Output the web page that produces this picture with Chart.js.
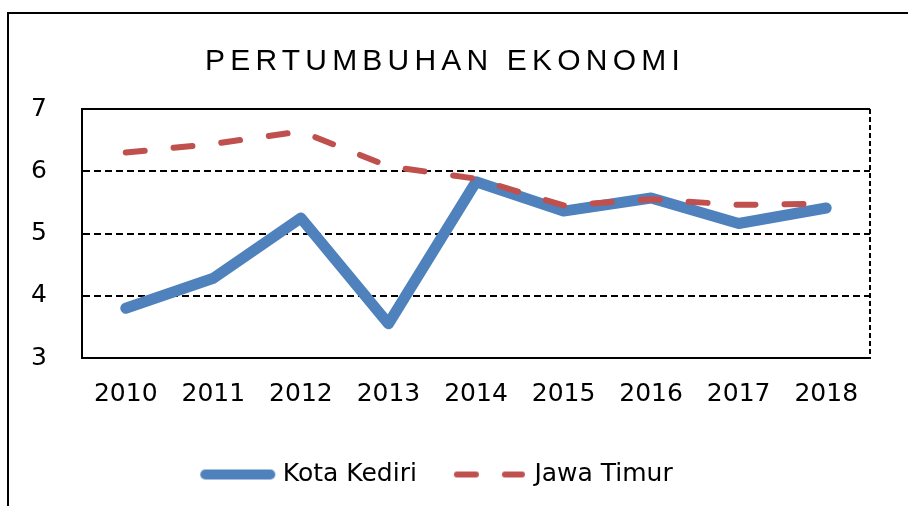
<!DOCTYPE html>
<html>
<head>
  <script src="https://cdn.jsdelivr.net/npm/chart.js"></script>
  <style>
    body { margin: 0; background: #fff; }
  </style>
</head>
<body>
  <div style="width: 908px; height: 506px;">
    <canvas id="growthChart" width="908" height="506"></canvas>
  </div>

  <script>
    // values
    const years = ['2010', '2011', '2012', '2013', '2014', '2015', '2016', '2017', '2018'];
    const kotaKediri = [3.80, 4.28, 5.25, 3.55, 5.83, 5.36, 5.57, 5.16, 5.41];
    const jawaTimur = [6.30, 6.44, 6.64, 6.08, 5.88, 5.45, 5.55, 5.46, 5.48];
    const yTicks = [3, 4, 5, 6, 7];
    const chartTitle = 'PERTUMBUHAN EKONOMI';

    const tickFont = { family: '"DejaVu Sans"', size: 25 };
    const blue = '#4F81BD';
    const red = '#C0504D';

    // legend swatches: a 65px line with round caps, solid or dashed
    function swatch(color, width, dash) {
      const c = document.createElement('canvas');
      c.width = 77;
      c.height = 14;
      const g = c.getContext('2d');
      g.strokeStyle = color;
      g.lineWidth = width;
      g.lineCap = 'round';
      g.setLineDash(dash);
      g.beginPath();
      g.moveTo(6, 7);
      g.lineTo(71, 7);
      g.stroke();
      return c;
    }

    // outer frame, plot top/right edges and the spaced-out title
    const framePlugin = {
      id: 'frame',
      afterDraw(chart) {
        const ctx = chart.ctx;
        const a = chart.chartArea;
        ctx.save();
        ctx.strokeStyle = '#000';
        ctx.lineWidth = 2;
        ctx.beginPath();
        ctx.moveTo(8, 506);
        ctx.lineTo(8, 13);
        ctx.lineTo(908, 13);
        ctx.stroke();

        ctx.beginPath();
        ctx.moveTo(a.left, a.top);
        ctx.lineTo(a.right, a.top);
        ctx.stroke();

        ctx.setLineDash([5, 3]);
        ctx.beginPath();
        ctx.moveTo(a.right, a.top);
        ctx.lineTo(a.right, a.bottom);
        ctx.stroke();
        ctx.setLineDash([]);

        ctx.fillStyle = '#000';
        ctx.font = '30px "Liberation Sans"';
        ctx.letterSpacing = '5.2px';
        ctx.textAlign = 'left';
        ctx.textBaseline = 'alphabetic';
        ctx.fillText(chartTitle, 205, 70);
        ctx.restore();
      }
    };

    const ctx = document.getElementById('growthChart').getContext('2d');
    new Chart(ctx, {
      type: 'line',
      data: {
        labels: years,
        datasets: [{
          label: 'Kota Kediri',
          data: kotaKediri,
          borderColor: blue,
          backgroundColor: blue,
          borderWidth: 11,
          borderCapStyle: 'round',
          borderJoinStyle: 'round',
          pointRadius: 0,
          pointStyle: swatch(blue, 10, []),
          tension: 0,
          order: 1
        }, {
          label: 'Jawa Timur',
          data: jawaTimur,
          borderColor: red,
          backgroundColor: red,
          borderWidth: 6,
          borderDash: [19, 29],
          borderCapStyle: 'round',
          borderJoinStyle: 'round',
          pointRadius: 0,
          pointStyle: swatch(red, 6, [19, 29]),
          tension: 0,
          order: 0
        }]
      },
      options: {
        responsive: false,
        animation: false,
        layout: {
          padding: { left: 8, right: 38, top: 109, bottom: 9 }
        },
        plugins: {
          title: { display: false },
          tooltip: { enabled: false },
          legend: {
            position: 'bottom',
            labels: {
              usePointStyle: true,
              pointStyleWidth: 65,
              padding: 40,
              color: '#000',
              font: tickFont,
              sort: (a, b) => a.datasetIndex - b.datasetIndex
            }
          }
        },
        scales: {
          x: {
            offset: true,
            grid: { display: false, drawTicks: false },
            border: { display: true, color: '#000', width: 2 },
            ticks: { color: '#000', font: tickFont, padding: 21, maxRotation: 0 },
            afterFit(scale) { scale.height = 64; }
          },
          y: {
            min: yTicks[0],
            max: yTicks[yTicks.length - 1],
            afterBuildTicks(scale) {
              scale.ticks = yTicks.map(v => ({ value: v }));
            },
            grid: {
              drawTicks: false,
              lineWidth: 2,
              color: (c) => (c.tick && c.tick.value > yTicks[0] && c.tick.value < yTicks[yTicks.length - 1]) ? '#000' : 'rgba(0,0,0,0)'
            },
            border: { display: true, color: '#000', width: 2, dash: [7, 4] },
            ticks: { color: '#000', font: tickFont, padding: 35 },
            afterFit(scale) { scale.width = 74; }
          }
        }
      },
      plugins: [framePlugin]
    });
  </script>
</body>
</html>
